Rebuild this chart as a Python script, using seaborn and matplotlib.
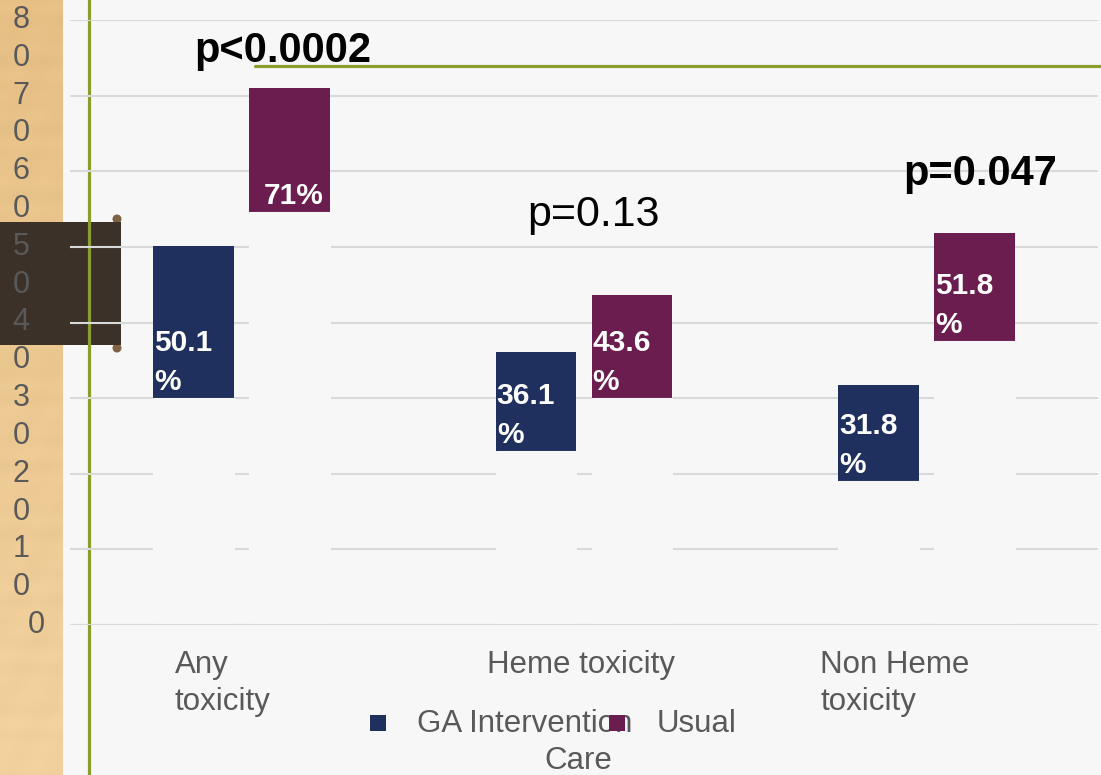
import numpy as np
import pandas as pd
import matplotlib
matplotlib.use("Agg")
import matplotlib.pyplot as plt
import matplotlib.transforms as mtransforms
from matplotlib.patches import Rectangle, Circle
from matplotlib.lines import Line2D
import seaborn as sns

# ---- data -------------------------------------------------------------
categories = ["Any toxicity", "Heme toxicity", "Non Heme toxicity"]
category_labels = ["Any\ntoxicity", "Heme toxicity", "Non Heme\ntoxicity"]
groups = ["GA Intervention", "Usual Care"]
ga_values = [50.1, 36.1, 31.8]
uc_values = [71.0, 43.6, 51.8]
# lower, background-filled part of each stacked column
ga_base = [30.0, 23.0, 19.0]
uc_base = [54.6, 30.0, 37.6]
ga_labels = ["50.1\n%", "36.1\n%", "31.8\n%"]
uc_labels = ["71%", "43.6\n%", "51.8\n%"]
p_texts = ["p<0.0002", "p=0.13", "p=0.047"]
p_bold = [True, False, True]
y_ticks = [0, 10, 20, 30, 40, 50, 60, 70, 80]

# ---- style ------------------------------------------------------------
W, H = 1101, 775
BG = "#f7f7f7"
NAVY = "#1f2f5e"
PLUM = "#6b1d4f"
GREEN = "#8a9e2c"
GREY_TXT = "#595959"
GRID = "#d9d9d9"

sns.set_theme(style="white")
plt.rcParams["font.family"] = ["Liberation Sans", "DejaVu Sans"]

fig = plt.figure(figsize=(W / 100, H / 100), dpi=100, facecolor=BG)


def fx(px):
    return px / W


def fy(py):
    return 1 - py / H


# wooden strip on the left edge
ax_wood = fig.add_axes([0, 0, fx(63), 1], zorder=-3)
rows = np.linspace(0, 1, 400)[:, None]
cols = np.linspace(0, 1, 30)[None, :]
top_c = np.array([0.90, 0.75, 0.52])
bot_c = np.array([0.95, 0.82, 0.62])
grain = 0.008 * np.sin(rows * 180) * np.cos(rows * 37) + 0.004 * np.sin(cols * 9 + rows * 60)
img = top_c[None, None, :] * (1 - rows[..., None]) + bot_c[None, None, :] * rows[..., None]
img = np.clip(img + grain[..., None], 0, 1)
ax_wood.imshow(img, aspect="auto", extent=[0, 1, 0, 1])
ax_wood.set_axis_off()

# dark tab crossing the strip
fig.add_artist(Rectangle((0, fy(345)), fx(121), fy(222) - fy(345),
                         transform=fig.transFigure, facecolor="#3b3129",
                         edgecolor="none", zorder=-1.5))
for ky in (219, 348):
    fig.add_artist(Circle((117 / 100, (H - ky) / 100), 0.045,
                          transform=fig.dpi_scale_trans, facecolor="#7d6243",
                          edgecolor="none", zorder=-1.6))

# green accent lines
fig.add_artist(Line2D([fx(89), fx(89)], [0, 1], transform=fig.transFigure,
                      color=GREEN, lw=2.3, zorder=-1))
fig.add_artist(Line2D([fx(255), 1], [fy(66), fy(66)], transform=fig.transFigure,
                      color=GREEN, lw=2.3, zorder=-1))

# ---- main chart -------------------------------------------------------
ax = fig.add_axes([fx(70), fy(625), fx(1098) - fx(70), fy(20) - fy(625)])
ax.patch.set_visible(False)

df = pd.DataFrame({
    "category": categories * 2,
    "group": [groups[0]] * 3 + [groups[1]] * 3,
    "value": ga_values + uc_values,
    "base": ga_base + uc_base,
})

sns.barplot(data=df, x="category", y="value", hue="group", hue_order=groups,
            palette=[NAVY, PLUM], width=0.56, gap=0.16, saturation=1,
            linewidth=0, edgecolor="none", legend=False, ax=ax, zorder=2)
sns.barplot(data=df, x="category", y="base", hue="group", hue_order=groups,
            palette=[BG, BG], width=0.56, gap=0.16, saturation=1,
            linewidth=0.8, edgecolor=BG, legend=False, ax=ax, zorder=2.1)

ax.set_ylim(0, 80)
ax.set_xlim(-0.5, 2.5)
ax.set_yticks(y_ticks)
ax.set_yticklabels([])
ax.set_xticks(range(len(categories)))
ax.set_xticklabels([])
ax.tick_params(length=0)
ax.set_xlabel("")
ax.set_ylabel("")
ax.set_axisbelow(True)
ax.yaxis.grid(True, color=GRID, lw=1.5)
ax.xaxis.grid(False)
ax.axhline(0, color=GRID, lw=1.5, zorder=3)
for s in ax.spines.values():
    s.set_visible(False)

# value labels inside the foot of each visible segment
label_sets = [ga_labels, uc_labels]
base_sets = [ga_base, uc_base]
for container, labels, bases in zip(ax.containers[:2], label_sets, base_sets):
    for bar, lab, b in zip(container.patches, labels, bases):
        x0 = bar.get_x()
        w = bar.get_width()
        if "\n" in lab:
            tx, ha = x0 + 0.003, "left"
        else:
            tx, ha = x0 + w / 2 + 0.012, "center"
        ax.annotate(lab, (tx, b), xytext=(0, 1.5), textcoords="offset points",
                    ha=ha, va="bottom", color="white", fontsize=21.5,
                    fontweight="bold", linespacing=1.5, zorder=5)

# significance annotations
p_pos = [(-0.136, 74.5), (0.834, 52.8), (1.931, 58.2)]
p_size = [30, 31, 30]
for txt, bold, fs, (px_, py_) in zip(p_texts, p_bold, p_size, p_pos):
    ax.text(px_, py_, txt, ha="left", va="baseline", fontsize=fs,
            fontweight="bold" if bold else "normal", color="black", zorder=6)

# category labels under the axis (baseline given for the last line)
cat_offsets = [-0.194, -0.284, -0.311]
trans_cat = mtransforms.blended_transform_factory(ax.transData, fig.transFigure)
for i, (lab, off) in enumerate(zip(category_labels, cat_offsets)):
    n_lines = lab.count("\n") + 1
    ax.text(i + off, fy(673 + 37 * (n_lines - 1)), lab, transform=trans_cat,
            ha="left", va="baseline", fontsize=22.5, color=GREY_TXT,
            linespacing=1.3, multialignment="left")

# y tick labels, one digit per line
trans_y = mtransforms.blended_transform_factory(fig.transFigure, ax.transData)
for v in y_ticks:
    s = str(v)
    if len(s) == 1:
        ax.text(fx(36), v, s, transform=trans_y, ha="center", va="center",
                fontsize=22, color=GREY_TXT, zorder=6)
    else:
        ax.text(fx(21), v, s[0], transform=trans_y, ha="center", va="center",
                fontsize=22, color=GREY_TXT, zorder=6)
        ax.text(fx(21), v - 5, s[1], transform=trans_y, ha="center", va="center",
                fontsize=22, color=GREY_TXT, zorder=6)

# legend
sq = 16
for (lx, color) in [(370, NAVY), (609, PLUM)]:
    fig.add_artist(Rectangle((fx(lx), fy(715 + sq)), fx(sq), fy(715) - fy(715 + sq),
                             transform=fig.transFigure, facecolor=color,
                             edgecolor="none", zorder=4))
fig.text(fx(417), fy(732), groups[0], ha="left", va="baseline", fontsize=22.5,
         color=GREY_TXT, zorder=3)
usual, care = groups[1].split(" ")
fig.text(fx(657), fy(732), usual, ha="left", va="baseline", fontsize=22.5,
         color=GREY_TXT, zorder=3)
fig.text(fx(544), fy(769), care, ha="left", va="baseline", fontsize=22.5,
         color=GREY_TXT, zorder=3)

fig.savefig("out.png", dpi=100, facecolor=BG)
